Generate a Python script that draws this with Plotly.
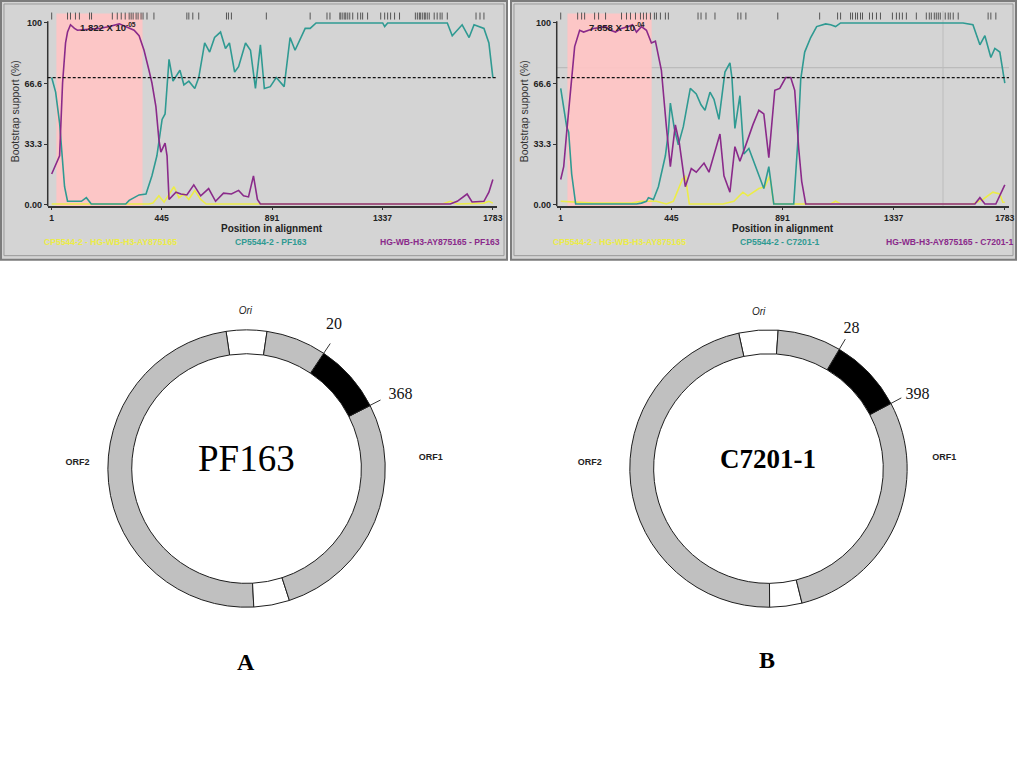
import plotly.graph_objects as go

W, H = 1024, 768

def px(x):
    return x / W

def py(y):
    return 1 - y / H

# ---------------- data ----------------
x_ticks = [1, 445, 891, 1337, 1783]
y_ticks = [0, 33.3, 66.6, 100]
y_tick_text = ["0.00", "33.3", "66.6", "100"]
threshold = 70

# Panel A : PF163
a_teal_pos = [1, 17, 33, 45, 53, 65, 85, 121, 141, 161, 300, 314, 354, 382, 406, 426, 447, 459, 475, 491,
              519, 535, 555, 579, 595, 619, 639, 659, 683, 703, 719, 740, 756, 784, 804, 824, 844, 860, 884, 908,
              940, 964, 984, 1025, 1045, 1069, 1338, 1346, 1358, 1599, 1619, 1659, 1687, 1707, 1747, 1767, 1783]
a_teal_val = [70, 62, 45, 25, 10, 2, 2, 2, 4, 0.5, 0.5, 2.5, 5.5, 6, 16, 27, 47, 50, 80, 68,
              74, 66, 68, 64, 70, 89, 84, 92, 95, 86, 89, 73, 76, 89, 85, 64, 88, 64, 65, 70,
              65, 92, 85, 97, 97, 100, 100, 98, 100, 100, 93, 99, 92, 99, 97, 89, 70]
a_purple_pos = [1, 33, 45, 57, 65, 77, 93, 105, 194, 234, 274, 314, 334, 354, 374, 394, 406, 422, 430, 434,
                442, 459, 467, 475, 503, 523, 547, 575, 603, 635, 663, 695, 727, 756, 776, 796, 816, 832, 844,
                1611, 1639, 1679, 1699, 1747, 1767, 1783]
a_purple_val = [17, 27, 67, 89, 95, 99, 97, 96, 97, 98, 99.5, 97, 96, 93, 85, 74, 67, 54, 42, 36,
                29, 34, 27, 3, 7, 6, 5.5, 11, 5, 9, 2, 6.5, 6, 8, 5, 4.4, 16, 3, 0.5,
                0.5, 2, 6, 1.6, 2, 7, 14]
a_yellow_pos = [1, 394, 410, 434, 455, 495, 515, 535, 555, 579, 603, 625, 1580, 1611, 1640, 1747, 1767, 1783]
a_yellow_val = [0.5, 0.5, 1, 5, 1.5, 10, 4, 6, 3, 8, 3, 0.5, 0.5, 2, 0.5, 1, 2, 1]
a_sites = [1, 65, 77, 97, 113, 154, 162, 246, 266, 282, 298, 314, 322, 330, 342, 350, 362, 370, 386, 414,
           547, 555, 571, 595, 707, 715, 727, 868, 1045, 1113, 1125, 1165, 1169, 1177, 1185, 1189, 1197,
           1205, 1217, 1237, 1249, 1257, 1277, 1330, 1346, 1358, 1370, 1386, 1406, 1470, 1478, 1486, 1490,
           1498, 1506, 1510, 1518, 1526, 1546, 1558, 1570, 1578, 1599, 1715, 1731, 1747]
a_region = [20, 368]
a_pvalue = "1.822 X 10<sup>-05</sup>"
a_legend = ["CP5544-2 - HG-WB-H3-AY875165", "CP5544-2 - PF163", "HG-WB-H3-AY875165 - PF163"]

# Panel B : C7201-1
b_teal_pos = [1, 25, 33, 45, 61, 285, 305, 325, 345, 353, 373, 393, 421, 433, 441, 457, 473, 493, 521, 545,
              564, 580, 600, 616, 636, 660, 680, 688, 700, 720, 736, 756, 784, 816, 836, 856, 936, 952, 964, 980,
              1004, 1028, 1064, 1084, 1104, 1124, 1615, 1655, 1683, 1703, 1727, 1743, 1763, 1783]
b_teal_val = [64, 43, 40, 17, 0.5, 0.5, 0.5, 1, 2, 4, 3, 10, 27, 40, 56, 42, 33, 43, 64, 61,
              55, 52, 62, 58, 47, 73, 78, 70, 42, 60, 28, 31, 21, 9, 21, 0.5, 0.5, 34, 69, 84,
              92, 98, 99.5, 99, 98, 100, 100, 99, 88, 93, 81, 86, 84, 67]
b_purple_pos = [1, 13, 25, 45, 57, 77, 93, 113, 133, 181, 201, 221, 245, 273, 289, 305, 325, 345, 365, 381,
                405, 425, 441, 461, 477, 501, 525, 545, 576, 596, 640, 656, 680, 700, 720, 744, 772, 796, 816,
                836, 860, 880, 904, 924, 940, 956, 968, 984, 1663, 1683, 1703, 1747, 1783]
b_purple_val = [14, 21, 40, 70, 87, 96, 95, 96, 97, 98, 96, 95, 97, 98, 99, 95, 98, 96, 89, 90,
                74, 43, 21, 44, 34, 10, 20, 18, 23, 18, 39, 16, 7, 32, 24, 33, 44, 52, 50,
                26, 63, 64, 70, 70, 63, 31, 13, 0.5, 0.5, 4, 0.5, 0.5, 11]
b_yellow_pos = [1, 61, 133, 285, 325, 385, 425, 453, 489, 501, 517, 652, 696, 732, 752, 796, 820, 840, 856,
                1084, 1104, 1124, 1655, 1695, 1735, 1763, 1775, 1783]
b_yellow_val = [2, 1.5, 1, 1, 2, 2, 0.5, 2, 14, 16, 0.5, 0.5, 2, 7, 5, 9, 10, 16, 0.5,
                0.5, 2, 0.5, 0.5, 3, 7, 6, 1.5, 1.5]
b_sites = [1, 69, 85, 97, 137, 153, 181, 245, 265, 281, 301, 321, 333, 345, 361, 377, 385, 401, 421, 433,
           552, 564, 584, 620, 712, 724, 744, 872, 1040, 1112, 1124, 1164, 1172, 1184, 1192, 1204, 1212,
           1240, 1252, 1268, 1284, 1332, 1348, 1360, 1372, 1388, 1428, 1468, 1480, 1488, 1500, 1508, 1516,
           1524, 1544, 1556, 1564, 1576, 1596, 1716, 1727, 1747]
b_region = [28, 366]
b_pvalue = "7.858 X 10<sup>-04</sup>"
b_legend = ["CP5544-2 - HG-WB-H3-AY875165", "CP5544-2 - C7201-1", "HG-WB-H3-AY875165 - C7201-1"]
b_grid_y = 75.4
b_grid_x = 1535

# Genome maps (segment start / end angle in degrees, counter-clockwise from east)
a_seg_start = [81.5, 98.5, 273, 288, 27, 56.2]
a_seg_end = [98.5, 273, 288, 387, 56.2, 81.5]
a_seg_kind = ["white", "gray", "white", "gray", "black", "gray"]
a_break_angles = [56.2, 27.1]
a_break_labels = ["20", "368"]
a_name = "PF163"

b_seg_start = [86, 102.4, 270.5, 284, 28, 59.3]
b_seg_end = [102.4, 270.5, 284, 388, 59.3, 86]
b_seg_kind = ["white", "gray", "white", "gray", "black", "gray"]
b_break_angles = [59.3, 28]
b_break_labels = ["28", "398"]
b_name = "C7201-1"

# ---------------- styles ----------------
TEAL = "#2f9a92"
PURPLE = "#8a2a8a"
YELLOW = "#ecec48"
PANEL_BG = "#d4d4d4"
PINK = "rgba(255,196,196,0.92)"
RING_COLORS = {"gray": "#c0c0c0", "white": "#ffffff", "black": "#000000"}
SANS = "Arial, Liberation Sans, sans-serif"
SERIF = "Times New Roman, Liberation Serif, serif"

fig = go.Figure()
shapes = []
annotations = []

panels = [
    dict(dx=0, xa="x", ya="y", teal=(a_teal_pos, a_teal_val), purple=(a_purple_pos, a_purple_val),
         yellow=(a_yellow_pos, a_yellow_val), sites=a_sites, region=a_region, pval=a_pvalue,
         legend=a_legend, dom=(48, 500), frame=(1, 510), pv_x=78),
    dict(dx=512, xa="x2", ya="y2", teal=(b_teal_pos, b_teal_val), purple=(b_purple_pos, b_purple_val),
         yellow=(b_yellow_pos, b_yellow_val), sites=b_sites, region=b_region, pval=b_pvalue,
         legend=b_legend, dom=(560, 1015), frame=(514, 1022), pv_x=590),
]

for i, p in enumerate(panels):
    xa, ya = p["xa"], p["ya"]
    # panel frame
    shapes.append(dict(type="rect", xref="paper", yref="paper", x0=px(p["frame"][0]), x1=px(p["frame"][1]),
                       y0=py(261), y1=py(1), fillcolor=PANEL_BG, line=dict(color="#7c7c7c", width=2),
                       layer="below"))
    shapes.append(dict(type="rect", xref="paper", yref="paper", x0=px(p["frame"][0] + 3),
                       x1=px(p["frame"][1] - 3), y0=py(257), y1=py(4), fillcolor="rgba(0,0,0,0)",
                       line=dict(color="#9a9a9a", width=1), layer="below"))
    # recombinant region
    shapes.append(dict(type="rect", xref=xa, yref=ya, x0=p["region"][0], x1=p["region"][1],
                       y0=-0.8, y1=105.2, fillcolor=PINK, line=dict(width=0), layer="below"))
    # y axis line (only up to 100)
    shapes.append(dict(type="line", xref=xa + " domain", yref=ya, x0=0, x1=0, y0=-0.8, y1=101,
                       line=dict(color="#333333", width=1.5)))
    # threshold
    shapes.append(dict(type="line", xref=xa + " domain", yref=ya, x0=0, x1=1, y0=threshold, y1=threshold,
                       line=dict(color="#111111", width=1.2, dash="3px,2px")))
    for (xs, ys), col in ((p["yellow"], YELLOW), (p["teal"], TEAL), (p["purple"], PURPLE)):
        fig.add_trace(go.Scatter(x=xs, y=ys, mode="lines", line=dict(color=col, width=1.6),
                                 xaxis=xa, yaxis=ya, showlegend=False, hoverinfo="skip"))
    fig.add_trace(go.Scatter(x=p["sites"], y=[103.8] * len(p["sites"]), mode="markers",
                             marker=dict(symbol="line-ns", size=5, line=dict(color="#555555", width=1)),
                             xaxis=xa, yaxis=ya, showlegend=False, hoverinfo="skip"))
    dx = p["dx"]
    cx = (p["dom"][0] + p["dom"][1]) / 2
    annotations.append(dict(text=p["pval"], x=px(p["pv_x"]), y=py(27), xref="paper", yref="paper",
                            xanchor="left", yanchor="middle", showarrow=False,
                            font=dict(family=SANS, size=9.5, color="#222222", weight="bold")))
    annotations.append(dict(text="Position in alignment", x=px(cx), y=py(229.5), xref="paper", yref="paper",
                            xanchor="center", yanchor="middle", showarrow=False,
                            font=dict(family=SANS, size=10, color="#222222", weight="bold")))
    annotations.append(dict(text="Bootstrap support (%)", x=px(16 + dx), y=py(112), xref="paper",
                            yref="paper", xanchor="center", yanchor="middle", textangle=-90, showarrow=False,
                            font=dict(family=SANS, size=10.5, color="#333333")))
    for txt, col, lx in zip(p["legend"], [YELLOW, TEAL, PURPLE], [111 + dx, 273 + dx, 443 + dx]):
        annotations.append(dict(text=txt, x=px(lx), y=py(243), xref="paper", yref="paper",
                                xanchor="center", yanchor="middle", showarrow=False,
                                font=dict(family=SANS, size=8.6, color=col, weight="bold")))

# faint grid lines of panel B
shapes.append(dict(type="line", xref="x2 domain", yref="y2", x0=0, x1=1, y0=b_grid_y, y1=b_grid_y,
                   line=dict(color="#b4b4b4", width=1), layer="below"))
shapes.append(dict(type="line", xref="x2", yref="y2 domain", x0=b_grid_x, x1=b_grid_x, y0=0, y1=1,
                   line=dict(color="#bcbcbc", width=1), layer="below"))

axis_common_x = dict(range=[-15, 1800], tickvals=x_ticks, ticktext=[str(v) for v in x_ticks],
                     ticks="outside", ticklen=2, tickcolor="#333333", showline=True, linecolor="#333333",
                     linewidth=2, showgrid=False, zeroline=False, fixedrange=True,
                     tickfont=dict(family=SANS, size=8.6, color="#222222", weight="bold"))
axis_common_y = dict(range=[-0.82, 106.6], tickvals=y_ticks, ticktext=y_tick_text, ticks="outside",
                     ticklen=3, tickcolor="#333333", showline=False,
                     showgrid=False, zeroline=False, fixedrange=True,
                     tickfont=dict(family=SANS, size=9, color="#222222", weight="bold"))

# ---------------- genome maps ----------------
maps = [
    dict(sub="polar", cx=248, starts=a_seg_start, ends=a_seg_end, kinds=a_seg_kind, br=a_break_angles,
         brl=a_break_labels, brl_pos=[(1.21, 58.6), (1.23, 25.5)], ori=(1.13, 90.4),
         orf1=(1.33, 3.4), orf2=(1.22, 178), name=a_name, bold=False, size=37, letter="A", ly=665),
    dict(sub="polar2", cx=773, starts=b_seg_start, ends=b_seg_end, kinds=b_seg_kind, br=b_break_angles,
         brl=b_break_labels, brl_pos=[(1.17, 59.2), (1.20, 26.4)], ori=(1.13, 93.6),
         orf1=(1.27, 3.6), orf2=(1.29, 178), name=b_name, bold=True, size=27, letter="B", ly=663),
]
CY = 471
R_OUT = 139.5
R_RANGE = 1.4
polar_layouts = {}
for m in maps:
    theta = [(s + e) / 2 for s, e in zip(m["starts"], m["ends"])]
    width = [e - s for s, e in zip(m["starts"], m["ends"])]
    n = len(theta)
    fig.add_trace(go.Barpolar(theta=theta, width=width, r=[0.172] * n, base=[0.828] * n,
                              marker=dict(color=[RING_COLORS[k] for k in m["kinds"]],
                                          line=dict(color="#1e1e1e", width=1)),
                              subplot=m["sub"], showlegend=False, hoverinfo="skip"))
    for a in m["br"]:
        fig.add_trace(go.Scatterpolar(r=[1.0, 1.085], theta=[a, a], mode="lines",
                                      line=dict(color="#333333", width=1), subplot=m["sub"],
                                      showlegend=False, hoverinfo="skip"))
    fig.add_trace(go.Scatterpolar(r=[q[0] for q in m["brl_pos"]], theta=[q[1] for q in m["brl_pos"]],
                                  mode="text", text=m["brl"], textposition="middle center",
                                  textfont=dict(family=SERIF, size=16, color="#111111"),
                                  subplot=m["sub"], showlegend=False, hoverinfo="skip", cliponaxis=False))
    fig.add_trace(go.Scatterpolar(r=[m["ori"][0]], theta=[m["ori"][1]], mode="text", text=["Ori"],
                                  textfont=dict(family=SANS, size=10, color="#222222", style="italic"),
                                  subplot=m["sub"], showlegend=False, hoverinfo="skip", cliponaxis=False))
    fig.add_trace(go.Scatterpolar(r=[m["orf1"][0], m["orf2"][0]], theta=[m["orf1"][1], m["orf2"][1]],
                                  mode="text", text=["ORF1", "ORF2"],
                                  textfont=dict(family=SANS, size=9, color="#222222", weight="bold"),
                                  subplot=m["sub"], showlegend=False, hoverinfo="skip", cliponaxis=False))
    rr = R_OUT * R_RANGE
    polar_layouts[m["sub"]] = dict(
        domain=dict(x=[px(m["cx"] - rr), px(m["cx"] + rr)], y=[py(CY + rr), py(CY - rr)]),
        bgcolor="rgba(0,0,0,0)",
        radialaxis=dict(range=[0, R_RANGE], visible=False),
        angularaxis=dict(rotation=0, direction="counterclockwise", visible=False),
        barmode="overlay")
    annotations.append(dict(text=m["name"], x=px(m["cx"]), y=py(461), xref="paper", yref="paper",
                            xanchor="center", yanchor="middle", showarrow=False,
                            font=dict(family=SERIF, size=m["size"], color="#000000",
                                      weight="bold" if m["bold"] else "normal")))
    annotations.append(dict(text=m["letter"], x=px(m["cx"] - 1), y=py(m["ly"]), xref="paper", yref="paper",
                            xanchor="center", yanchor="middle", showarrow=False,
                            font=dict(family=SERIF, size=24, color="#000000", weight="bold")))

fig.update_layout(
    width=W, height=H, margin=dict(l=0, r=0, t=0, b=0),
    paper_bgcolor="white", plot_bgcolor="rgba(0,0,0,0)",
    showlegend=False,
    xaxis=dict(domain=[px(48), px(500)], anchor="y", **axis_common_x),
    yaxis=dict(domain=[py(207.5), py(11)], anchor="x", **axis_common_y),
    xaxis2=dict(domain=[px(560), px(1015)], anchor="y2", **axis_common_x),
    yaxis2=dict(domain=[py(207.5), py(11)], anchor="x2", **axis_common_y),
    polar=polar_layouts["polar"],
    polar2=polar_layouts["polar2"],
    shapes=shapes,
    annotations=annotations,
)

fig.write_html("out.html", config={"displayModeBar": False},
               post_script="document.body.style.margin='0';document.body.style.overflow='hidden';")
